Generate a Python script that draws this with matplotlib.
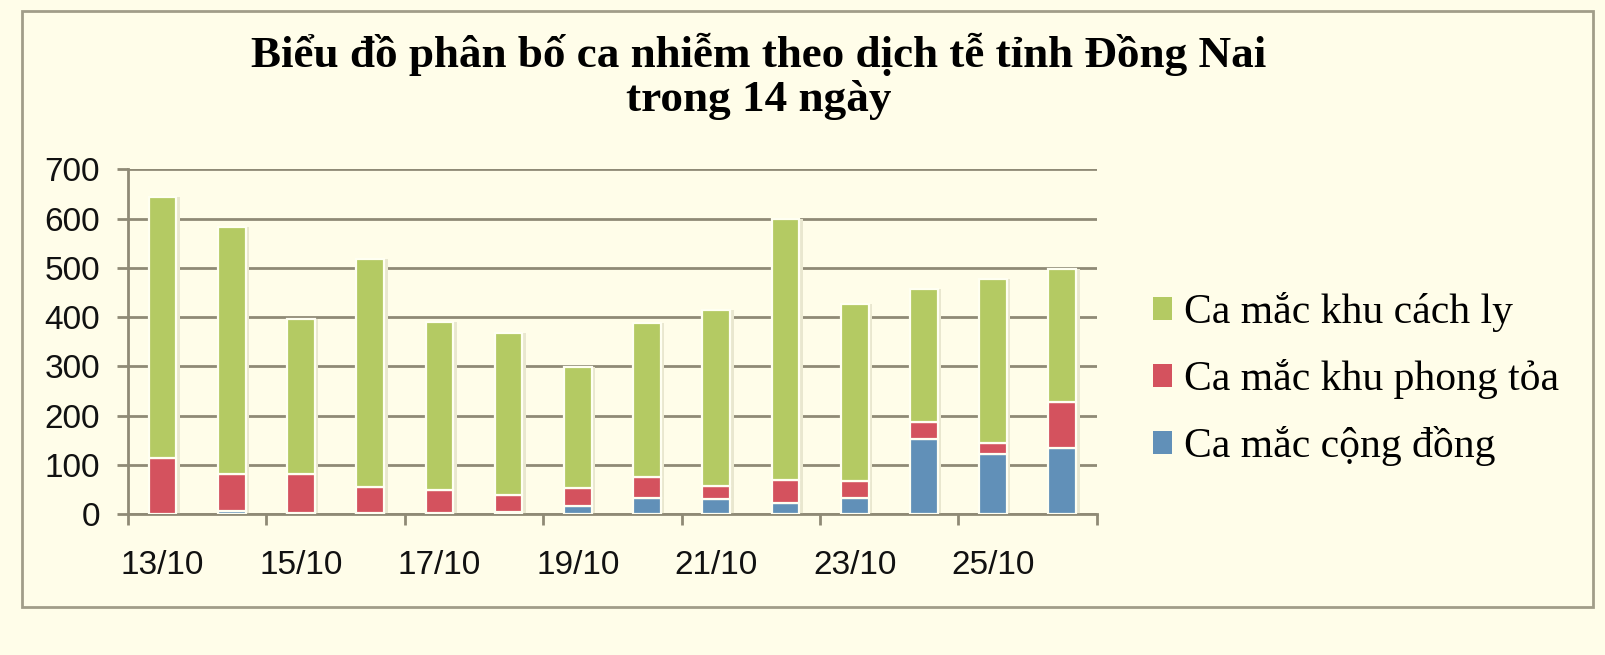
import matplotlib
matplotlib.use("Agg")
import matplotlib.pyplot as plt
from matplotlib.patches import Rectangle
import numpy as np

# --- data ---
dates = ['13/10', '14/10', '15/10', '16/10', '17/10', '18/10', '19/10',
         '20/10', '21/10', '22/10', '23/10', '24/10', '25/10', '26/10']
cong_dong = [0, 6, 3, 3, 3, 5, 16, 32, 30, 22, 32, 152, 121, 133]
phong_toa = [113, 75, 78, 52, 46, 34, 36, 43, 27, 48, 34, 35, 23, 95]
cach_ly = [531, 502, 315, 462, 341, 328, 247, 312, 357, 530, 360, 269, 334, 270]

labels = ['Ca mắc cộng đồng', 'Ca mắc khu phong tỏa', 'Ca mắc khu cách ly']
colors = ['#6190B8', '#D4525E', '#B4CA63']

BG = '#FFFDE9'
GRID = '#8F8A76'

fig = plt.figure(figsize=(16.06, 6.55), dpi=100, facecolor=BG)
ax = fig.add_axes([0.0797, 0.2153, 0.6033, 0.5262])
ax.set_facecolor(BG)

x = np.arange(len(dates))
bottom = np.zeros(len(dates))
handles = []
for vals, col, lab in zip([cong_dong, phong_toa, cach_ly], colors, labels):
    # soft shadow to the right of each segment
    ax.bar(x + 0.05, vals, width=0.4, bottom=bottom, color='#E9E7CF',
           edgecolor='none', zorder=2)
    b = ax.bar(x, vals, width=0.4, bottom=bottom, color=col,
               edgecolor='#FFFFF2', linewidth=1.6, zorder=3, label=lab)
    handles.append(b)
    bottom += np.array(vals)

# axes styling
ax.set_xlim(-0.5, len(dates) - 0.5)
ax.set_ylim(0, 700)
ax.set_yticks(np.arange(0, 701, 100))
ax.yaxis.grid(True, color=GRID, linewidth=2.0, zorder=1)
ax.set_axisbelow(True)
for s in ['top', 'right']:
    ax.spines[s].set_visible(False)
for s in ['left', 'bottom']:
    ax.spines[s].set_color(GRID)
    ax.spines[s].set_linewidth(2.0)

ax.set_xticks(np.arange(-0.5, len(dates), 2))
ax.set_xticklabels([])
ax.set_xticks(x[::2], minor=True)
ax.set_xticklabels(dates[::2], minor=True)
ax.tick_params(axis='x', which='major', length=8, width=2, color=GRID)
ax.tick_params(axis='x', which='minor', length=0, pad=26, labelsize=24)
ax.tick_params(axis='y', length=8, width=2, color=GRID, pad=12, labelsize=24)
for t in ax.get_xticklabels(minor=True) + ax.get_yticklabels():
    t.set_fontfamily('Liberation Sans')
    t.set_color('#111111')

# legend (reversed order: top is green)
leg = fig.legend(handles[::-1], labels[::-1], loc='center left',
                 bbox_to_anchor=(0.705, 0.421), frameon=False, borderpad=0,
                 prop={'family': 'Liberation Serif', 'size': 30},
                 handlelength=0.45, handleheight=0.45, handletextpad=0.3,
                 labelspacing=0.65)
for h in leg.legend_handles:
    h.set_edgecolor('none')

# title
fig.text(0.4726, 0.8977, 'Biểu đồ phân bố ca nhiễm theo dịch tễ tỉnh Đồng Nai',
         ha='center', va='baseline', fontsize=32.5, fontweight='bold',
         family='Liberation Serif')
fig.text(0.4726, 0.8305, 'trong 14 ngày', ha='center', va='baseline',
         fontsize=32.5, fontweight='bold', family='Liberation Serif')

# outer chart border
fig.patches.append(Rectangle((0.0135, 0.0733), 0.9784, 0.9104,
                             transform=fig.transFigure, fill=False,
                             edgecolor='#A19D89', linewidth=2.0))

fig.savefig('out.png', dpi=100, facecolor=BG)
